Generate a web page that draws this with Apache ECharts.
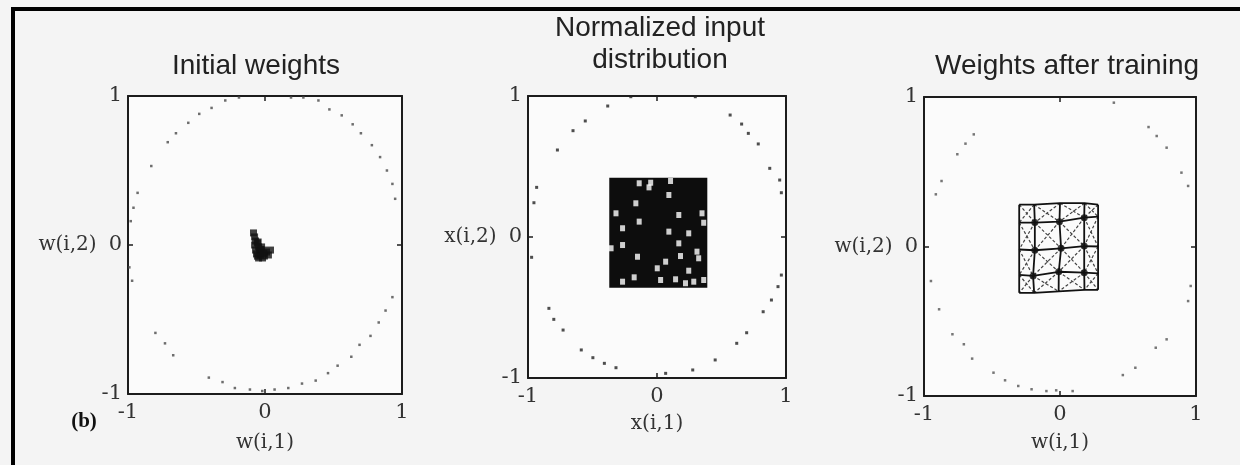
<!DOCTYPE html>
<html>
<head>
<meta charset="utf-8">
<title>SOM weights</title>
<script src="https://cdn.jsdelivr.net/npm/echarts@6/dist/echarts.min.js"></script>
<style>
html, body { margin: 0; padding: 0; background: #f4f4f4; }
#main { width: 1240px; height: 465px; }
</style>
</head>
<body>
<div id="main"></div>
<script>
// values
var axisTicks = [-1, 0, 1];
var panelTitles = ['Initial weights', 'Normalized input\ndistribution', 'Weights after training'];
var xNames = ['w(i,1)', 'x(i,1)', 'w(i,1)'];
var yNames = ['w(i,2)', 'x(i,2)', 'w(i,2)'];

// panel 1: dots on the unit circle + the blob of initial weights
var initRing = [
  [-0.48, 0.88], [-0.39, 0.92], [-0.29, 0.97], [-0.19, 0.99], [0.19, 0.99], [0.28, 0.99],
  [0.39, 0.97], [0.47, 0.91], [0.56, 0.87], [0.64, 0.81], [0.70, 0.75], [0.78, 0.67],
  [0.84, 0.59], [0.89, 0.50], [0.93, 0.41], [0.95, 0.31],
  [0.93, -0.35], [0.88, -0.44], [0.83, -0.52], [0.77, -0.61], [0.69, -0.67], [0.63, -0.75],
  [0.53, -0.81], [0.46, -0.86], [0.37, -0.91], [0.27, -0.93], [0.17, -0.96], [0.07, -0.97],
  [-0.02, -0.98], [-0.11, -0.97], [-0.22, -0.96], [-0.31, -0.92], [-0.41, -0.89],
  [-0.56, 0.82], [-0.65, 0.75], [-0.71, 0.69], [-0.83, 0.53], [-0.93, 0.35], [-0.96, 0.25],
  [-0.98, 0.16], [-0.99, -0.15], [-0.97, -0.24], [-0.80, -0.59], [-0.73, -0.66], [-0.67, -0.74]
];
var initBlob = [
  [-0.084, 0.081], [-0.076, 0.054], [-0.069, 0.027], [-0.055, 0.013], [-0.076, 0.0],
  [-0.047, -0.013], [-0.025, -0.013], [-0.069, -0.034], [-0.04, -0.04], [-0.011, -0.034],
  [0.011, -0.047], [-0.062, -0.06], [-0.033, -0.067], [-0.004, -0.074], [0.025, -0.067],
  [-0.047, -0.087], [-0.018, -0.087], [0.04, -0.034], [-0.05, 0.02], [-0.03, -0.03],
  [-0.055, -0.075], [-0.01, -0.055]
];

// panel 2: circle dots, the dense input square and the white gaps in it
var inputRing = [
  [-0.382, 0.929], [-0.556, 0.823], [-0.651, 0.754], [-0.772, 0.617], [-0.933, 0.352],
  [-0.954, 0.243], [-0.972, -0.144], [-0.838, -0.506], [-0.80, -0.584], [-0.728, -0.66],
  [-0.587, -0.801], [-0.497, -0.856], [-0.408, -0.896], [-0.318, -0.927], [0.067, -0.967],
  [0.277, -0.943], [0.451, -0.872], [0.618, -0.754], [0.695, -0.679], [0.823, -0.53],
  [0.887, -0.447], [0.938, -0.352], [0.964, -0.27], [0.964, 0.314], [0.951, 0.404],
  [0.874, 0.487], [0.785, 0.66], [0.708, 0.735], [0.656, 0.801], [0.567, 0.865],
  [0.297, 0.995], [-0.203, 0.995]
];
var inputBox = [[-0.37, 0.42], [0.39, -0.36]];
var inputGaps = [
  [-0.138, 0.381], [-0.049, 0.385], [0.105, 0.397], [-0.062, 0.352], [0.092, 0.298],
  [-0.164, 0.239], [-0.318, 0.168], [-0.138, 0.109], [0.169, 0.156], [0.349, 0.168],
  [0.362, 0.101], [-0.267, 0.062], [0.092, 0.038], [0.246, 0.026], [-0.356, -0.08],
  [-0.267, -0.057], [0.169, -0.045], [0.31, -0.104], [-0.151, -0.14], [0.067, -0.175],
  [0.182, -0.135], [0.323, -0.151], [0.002, -0.222], [0.246, -0.239], [-0.267, -0.317],
  [-0.177, -0.286], [0.028, -0.305], [0.144, -0.3], [0.221, -0.328], [0.285, -0.317],
  [0.362, -0.305]
];

// panel 3: circle dots and the trained 5x5 lattice (rows top to bottom)
var trainedRing = [
  [-0.634, 0.75], [-0.695, 0.688], [-0.755, 0.617], [-0.871, 0.438], [-0.913, 0.349],
  [-0.949, -0.231], [-0.889, -0.42], [-0.791, -0.587], [-0.707, -0.654], [-0.646, -0.75],
  [-0.489, -0.844], [-0.404, -0.895], [-0.307, -0.933], [-0.209, -0.955], [-0.10, -0.967],
  [-0.028, -0.962], [0.093, -0.967], [0.462, -0.86], [0.554, -0.811], [0.704, -0.677],
  [0.784, -0.621], [0.942, -0.365], [0.961, -0.264], [0.942, 0.405], [0.893, 0.494],
  [0.784, 0.661], [0.711, 0.739], [0.651, 0.799], [0.396, 0.962]
];
var meshNodes = [
  [[-0.30, 0.28], [-0.19, 0.28], [0.00, 0.29], [0.18, 0.29], [0.28, 0.28]],
  [[-0.30, 0.16], [-0.185, 0.16], [-0.004, 0.166], [0.178, 0.193], [0.28, 0.20]],
  [[-0.30, -0.02], [-0.185, -0.025], [0.008, -0.012], [0.178, 0.003], [0.28, 0.0]],
  [[-0.30, -0.19], [-0.198, -0.197], [-0.009, -0.169], [0.178, -0.175], [0.28, -0.18]],
  [[-0.30, -0.31], [-0.19, -0.31], [-0.01, -0.30], [0.18, -0.29], [0.28, -0.29]]
];

var grids = [
  { left: 128, top: 96, width: 274, height: 298 },
  { left: 528, top: 96, width: 258, height: 282 },
  { left: 924, top: 97, width: 272, height: 299 }
];
var yNameGap = [28, 26, 31];
var xNameGap = [49, 46, 47];

var chart = echarts.init(document.getElementById('main'));

var serif = '"DejaVu Serif", "Liberation Serif", serif';
var ink = '#1c1c1c';

var xAxes = [], yAxes = [];
grids.forEach(function (g, p) {
  g.show = true;
  g.backgroundColor = '#fbfbfb';
  g.borderWidth = 0;
  var base = {
    gridIndex: p, type: 'value',
    min: axisTicks[0], max: axisTicks[axisTicks.length - 1], interval: 1,
    splitLine: { show: false },
    axisLine: { onZero: false, lineStyle: { color: ink, width: 2 } },
    axisTick: { inside: true, length: 5, lineStyle: { color: ink, width: 1.5 } }
  };
  xAxes.push(Object.assign({}, base, {
    position: 'bottom',
    name: xNames[p], nameLocation: 'middle', nameGap: xNameGap[p],
    nameTextStyle: { fontFamily: serif, fontSize: 20, color: '#333', verticalAlign: 'middle' },
    axisLabel: { margin: 8, fontFamily: serif, fontSize: 21, color: '#333' }
  }));
  xAxes.push(Object.assign({}, base, { position: 'top', axisLabel: { show: false } }));
  yAxes.push(Object.assign({}, base, {
    position: 'left',
    name: yNames[p], nameLocation: 'middle', nameRotate: 0, nameGap: yNameGap[p],
    nameTextStyle: { fontFamily: serif, fontSize: 20, color: '#333', align: 'right', verticalAlign: 'middle' },
    axisLabel: { margin: 6, fontFamily: serif, fontSize: 21, color: '#333' }
  }));
  yAxes.push(Object.assign({}, base, { position: 'right', axisLabel: { show: false } }));
});

function dots(p, data, size, color) {
  return {
    type: 'scatter', xAxisIndex: 2 * p, yAxisIndex: 2 * p, data: data,
    symbol: 'rect', symbolSize: size, itemStyle: { color: color }, silent: true, z: 3
  };
}
function seg(pts, style) {
  return {
    type: 'line', xAxisIndex: 4, yAxisIndex: 4, data: pts, symbol: 'none',
    lineStyle: style, silent: true, z: 4
  };
}

var series = [
  dots(0, initRing, 2.5, '#4a4a4a'),
  dots(0, initBlob, 7, '#111'),
  Object.assign(dots(1, inputRing, 3, '#222'), {
    markArea: {
      silent: true,
      itemStyle: { color: '#0d0d0d' },
      data: [[{ coord: inputBox[0] }, { coord: inputBox[1] }]]
    }
  }),
  Object.assign(dots(1, inputGaps, [5, 6], '#ffffff'), { z: 6 }),
  dots(2, trainedRing, 2.5, '#555')
];

// lattice: diagonals (dashed), rows, columns, nodes
var dashed = { color: '#444', width: 1.2, type: [3, 2] };
var solid = { color: '#111', width: 1.8 };
for (var r = 0; r < meshNodes.length - 1; r++) {
  for (var c = 0; c < meshNodes[r].length - 1; c++) {
    series.push(seg([meshNodes[r][c], meshNodes[r + 1][c + 1]], dashed));
    series.push(seg([meshNodes[r][c + 1], meshNodes[r + 1][c]], dashed));
  }
}
meshNodes.forEach(function (row) { series.push(seg(row, solid)); });
meshNodes[0].forEach(function (_, c) {
  series.push(seg(meshNodes.map(function (row) { return row[c]; }), solid));
});
var inner = [];
meshNodes.slice(1, 4).forEach(function (row) { inner = inner.concat(row.slice(1, 4)); });
series.push(Object.assign(dots(2, inner, 7, '#111'), { symbol: 'circle', z: 5 }));

var titleFont = '28px "Liberation Sans", Arial, sans-serif';
var titlePos = [[256, 66], [660, 44], [1067, 66]];

chart.setOption({
  backgroundColor: '#f4f4f4',
  animation: false,
  grid: grids,
  xAxis: xAxes,
  yAxis: yAxes,
  series: series,
  graphic: [
    { type: 'rect', shape: { x: 11, y: 7, width: 1240, height: 4 }, style: { fill: '#000' } },
    { type: 'rect', shape: { x: 11, y: 7, width: 4, height: 470 }, style: { fill: '#000' } },
    { type: 'text', x: 84, y: 422, style: { text: '(b)', font: 'bold 21px "Liberation Serif", serif', fill: '#111', align: 'center', verticalAlign: 'middle' } }
  ].concat(panelTitles.map(function (t, p) {
    return {
      type: 'text', x: titlePos[p][0], y: titlePos[p][1],
      style: { text: t, font: titleFont, fill: '#222', align: 'center', verticalAlign: 'middle', lineHeight: 32 }
    };
  }))
});
</script>
</body>
</html>
